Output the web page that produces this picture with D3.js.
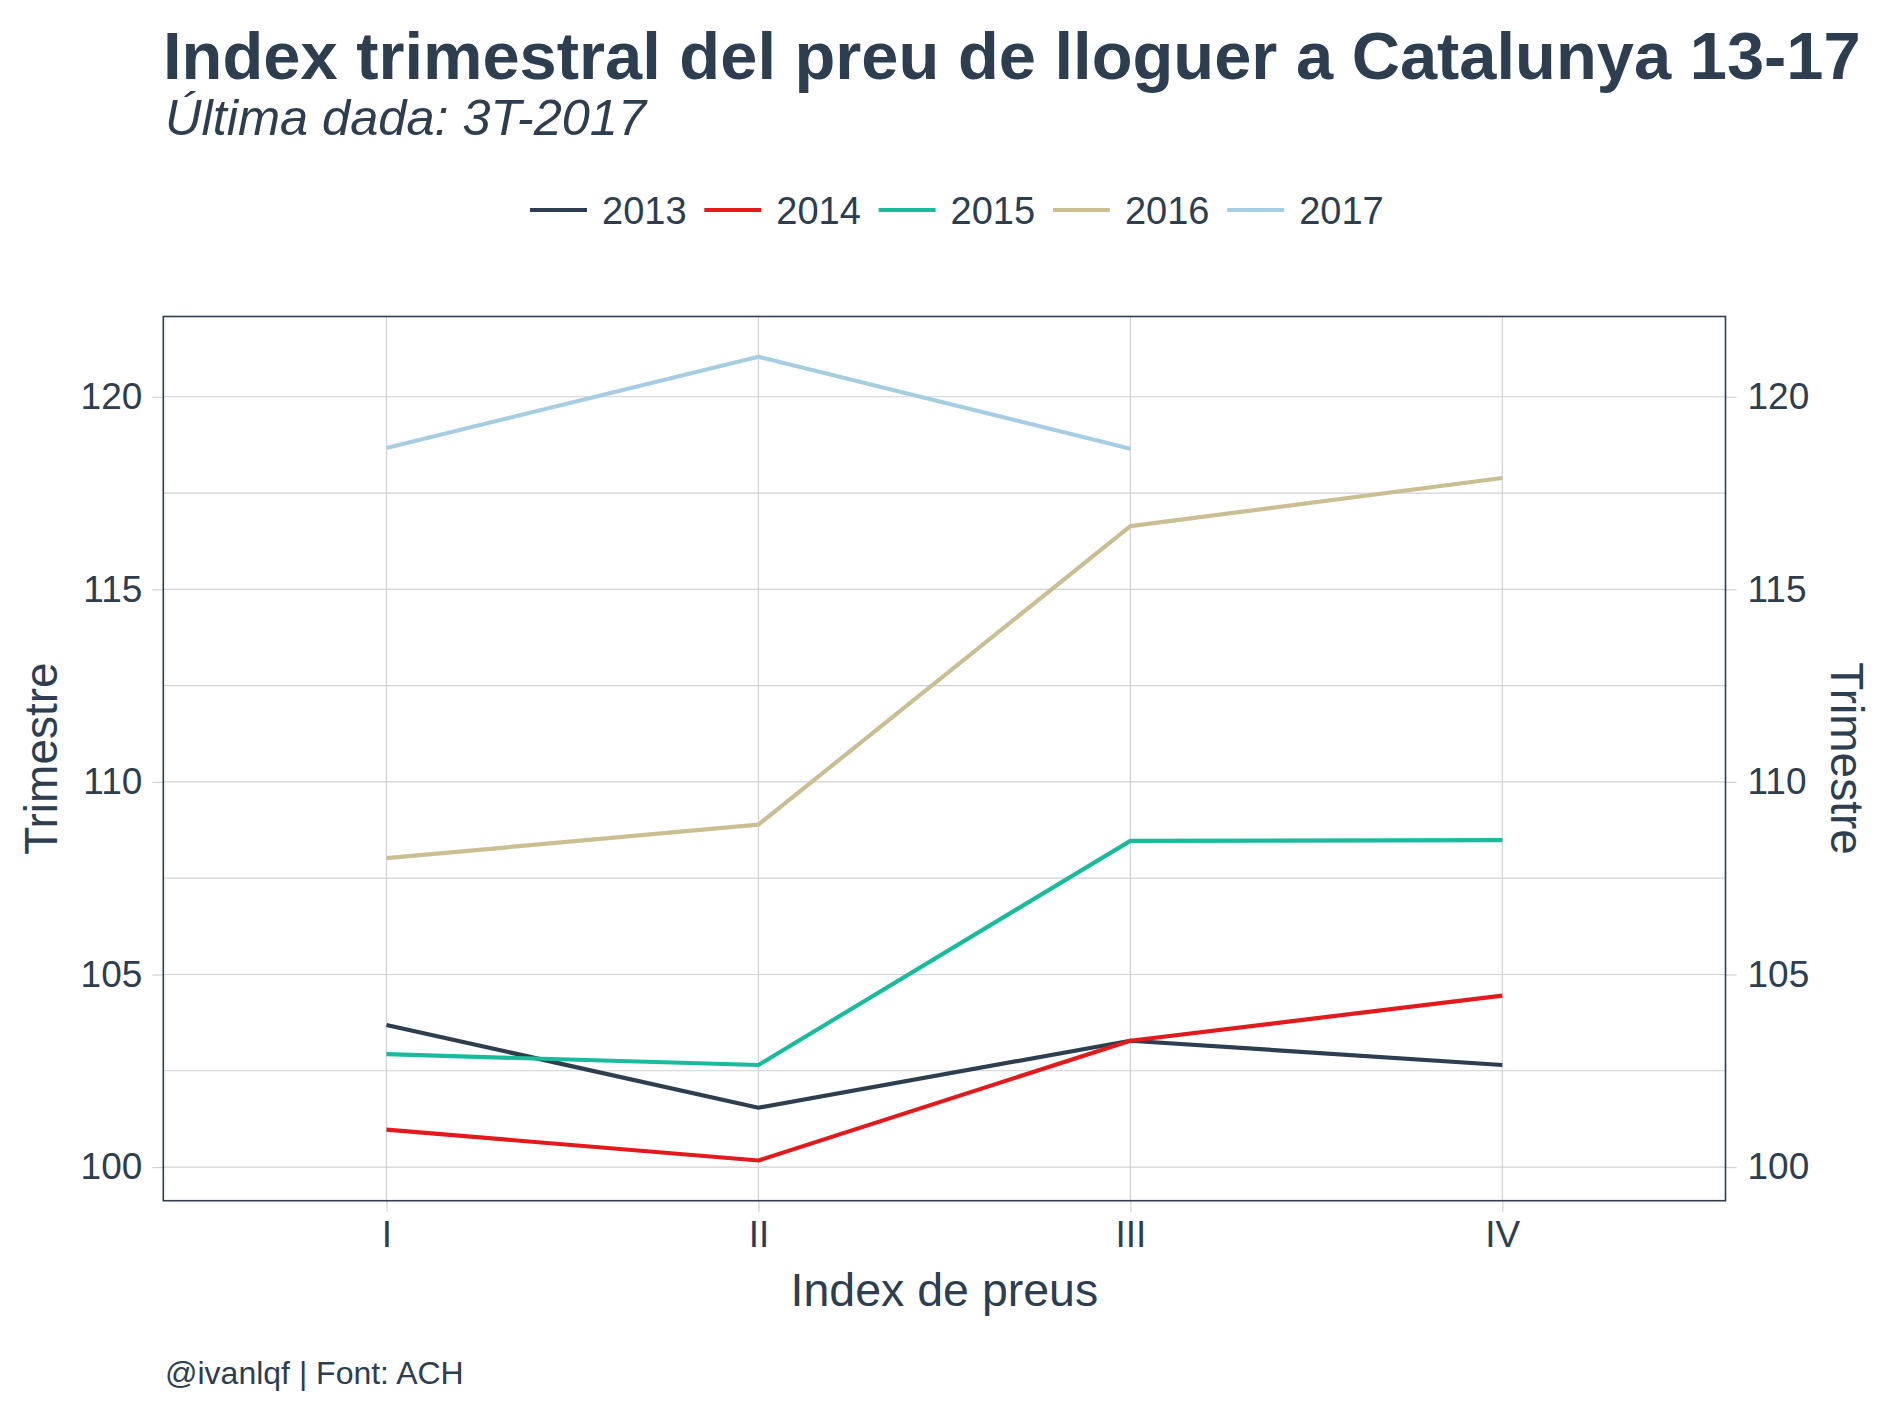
<!DOCTYPE html>
<html>
<head>
<meta charset="utf-8">
<script src="https://cdn.jsdelivr.net/npm/d3@7"></script>
<style>
  html, body { margin: 0; padding: 0; background: #ffffff; }
  svg { display: block; }
  text { font-family: "Liberation Sans", Arial, Helvetica, sans-serif; fill: #2C3E50; }
</style>
</head>
<body>
<svg id="chart" width="1889" height="1417"></svg>
<script>
// ---- Data ----
const quarters = ["I", "II", "III", "IV"];
const years = ["2013", "2014", "2015", "2016", "2017"];
const values2013 = [103.69, 101.54, 103.28, 102.65];
const values2014 = [100.97, 100.17, 103.28, 104.45];
const values2015 = [102.93, 102.65, 108.47, 108.49];
const values2016 = [108.02, 108.89, 116.64, 117.89];
const values2017 = [118.67, 121.04, 118.65];
const yTicks = [100, 105, 110, 115, 120];
const yMinorTicks = [102.5, 107.5, 112.5, 117.5];
const colors = ["#2C3E50", "#E31A1C", "#18BC9C", "#CCBE93", "#A6CEE3"];

const titleText = "Index trimestral del preu de lloguer a Catalunya 13-17";
const subtitleText = "Última dada: 3T-2017";
const captionText = "@ivanlqf | Font: ACH";
const xTitle = "Index de preus";
const yTitle = "Trimestre";

const seriesValues = [values2013, values2014, values2015, values2016, values2017];
const series = years.map((y, i) => ({
  year: y,
  color: colors[i],
  points: seriesValues[i].map((v, j) => ({ q: quarters[j], v }))
}));

// ---- Layout ----
const svg = d3.select("#chart");
const panel = { left: 163.3, right: 1725.5, top: 316.5, bottom: 1200.7 };
const textColor = "#2C3E50";
const gridColor = "#D2D2D2";

const x = d3.scalePoint().domain(quarters)
  .range([panel.left, panel.right]).padding(0.6);

const allVals = seriesValues.flat();
const [vmin, vmax] = d3.extent(allVals);
const pad = (vmax - vmin) * 0.05;
const y = d3.scaleLinear().domain([vmin - pad, vmax + pad])
  .range([panel.bottom, panel.top]);

// Gridlines
const grid = svg.append("g");
grid.selectAll("line.hminor").data(yMinorTicks).join("line")
  .attr("x1", panel.left).attr("x2", panel.right)
  .attr("y1", d => y(d)).attr("y2", d => y(d))
  .attr("stroke", gridColor).attr("stroke-width", 1.2);
grid.selectAll("line.hmajor").data(yTicks).join("line")
  .attr("x1", panel.left).attr("x2", panel.right)
  .attr("y1", d => y(d)).attr("y2", d => y(d))
  .attr("stroke", gridColor).attr("stroke-width", 1.2);
grid.selectAll("line.v").data(quarters).join("line")
  .attr("x1", d => x(d)).attr("x2", d => x(d))
  .attr("y1", panel.top).attr("y2", panel.bottom)
  .attr("stroke", gridColor).attr("stroke-width", 1.2);

// Axes
const fsTick = 37;
const yAxisL = d3.axisLeft(y).tickValues(yTicks).tickSize(11).tickPadding(10);
const gL = svg.append("g").attr("transform", `translate(${panel.left},0)`).call(yAxisL);
const yAxisR = d3.axisRight(y).tickValues(yTicks).tickSize(11).tickPadding(11);
const gR = svg.append("g").attr("transform", `translate(${panel.right},0)`).call(yAxisR);
const xAxis = d3.axisBottom(x).tickSize(11).tickPadding(9);
const gX = svg.append("g").attr("transform", `translate(0,${panel.bottom})`).call(xAxis);
[gL, gR, gX].forEach(g => {
  g.select(".domain").remove();
  g.selectAll(".tick line").attr("stroke", gridColor).attr("stroke-width", 1.2);
  g.selectAll(".tick text")
    .attr("fill", textColor)
    .style("font-family", '"Liberation Sans", Arial, sans-serif')
    .style("font-size", fsTick + "px");
});

// Lines
const line = d3.line().x(d => x(d.q)).y(d => y(d.v));
svg.append("g").selectAll("path").data(series).join("path")
  .attr("d", d => line(d.points))
  .attr("fill", "none")
  .attr("stroke", d => d.color)
  .attr("stroke-width", 4.2)
  .attr("stroke-linejoin", "round");

// Panel border
svg.append("rect")
  .attr("x", panel.left).attr("y", panel.top)
  .attr("width", panel.right - panel.left).attr("height", panel.bottom - panel.top)
  .attr("fill", "none").attr("stroke", textColor).attr("stroke-width", 1.6);

// Axis titles
svg.append("text")
  .attr("x", (panel.left + panel.right) / 2).attr("y", 1306)
  .attr("text-anchor", "middle").style("font-size", "46.5px").text(xTitle);
svg.append("text")
  .attr("transform", `translate(57,${(panel.top + panel.bottom) / 2}) rotate(-90)`)
  .attr("text-anchor", "middle").style("font-size", "46px").text(yTitle);
svg.append("text")
  .attr("transform", `translate(1831,${(panel.top + panel.bottom) / 2}) rotate(90)`)
  .attr("text-anchor", "middle").style("font-size", "46px").text(yTitle);

// Title and subtitle, fitted to the reference widths
function fit(sel, target) {
  const w = sel.node().getComputedTextLength();
  const fs = parseFloat(sel.style("font-size"));
  sel.style("font-size", (fs * target / w) + "px");
}
const title = svg.append("text").attr("x", 163).attr("y", 79)
  .style("font-size", "66px").style("font-weight", "bold").text(titleText);
fit(title, 1698);
const subtitle = svg.append("text").attr("x", 165).attr("y", 135)
  .style("font-size", "46px").style("font-style", "italic").text(subtitleText);
fit(subtitle, 481);

// Legend
const legend = svg.append("g").attr("transform", "translate(530,210)");
const items = legend.selectAll("g").data(series).join("g")
  .attr("transform", (d, i) => `translate(${i * 174.3},0)`);
items.append("line")
  .attr("x1", 0).attr("x2", 57).attr("y1", 0).attr("y2", 0)
  .attr("stroke", d => d.color).attr("stroke-width", 4.2);
items.append("text")
  .attr("x", 72).attr("y", 0).attr("dy", "0.36em")
  .style("font-size", "38px").text(d => d.year);

// Caption
svg.append("text").attr("x", 165).attr("y", 1384)
  .style("font-size", "32px").text(captionText);
</script>
</body>
</html>
